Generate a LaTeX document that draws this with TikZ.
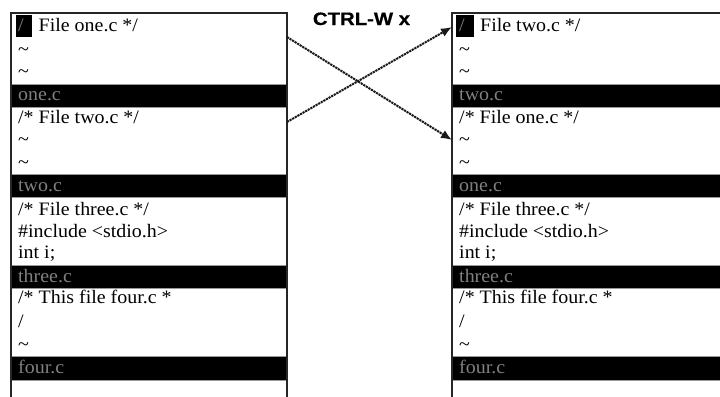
\documentclass[tikz,border=0pt]{standalone}
\usepackage{fontspec}
\usetikzlibrary{arrows.meta}
\newfontfamily\codefont[FakeStretch=1.05]{Liberation Serif}
\newfontfamily\labelfont[FakeStretch=1.13,FakeBold=0.6]{Liberation Sans Bold}
\tikzset{
  win/.style={draw=black!85, line width=1.6bp},
  barbox/.style={fill=black, draw=black!40, line width=0.8bp},
  txt/.style={anchor=base west, inner sep=0pt, font=\codefont\fontsize{19bp}{21bp}\selectfont},
  bartxt/.style={txt, text=black!50},
  curbox/.style={fill=black, text=black!50, anchor=base west, inner sep=0pt, minimum width=16bp, minimum height=22bp, font=\codefont\fontsize{19bp}{21bp}\selectfont, text depth=6bp, align=left},
  conn/.style={draw=black!90, line width=2bp, dash pattern=on 2.2bp off 0.8bp, -{Latex[length=11bp,width=9bp]}},
  lbl/.style={anchor=base, inner sep=0pt, font=\labelfont\fontsize{18bp}{20bp}\selectfont},
}
\begin{document}
\begin{tikzpicture}[x=1bp,y=-1bp]
\useasboundingbox (0,0) rectangle (720,396);
% ---------- left window ----------
\fill[white] (11,13) rectangle (287,400);
\draw[barbox] (11,84) rectangle (287,107);
\draw[barbox] (11,174) rectangle (287,197);
\draw[barbox] (11,265) rectangle (287,288);
\draw[barbox] (11,356) rectangle (287,380);
\draw[win] (11,400) -- (11,13) -- (287,13) -- (287,400);
\fill[black] (16,15) rectangle (32,37);
\node[txt, text=black!50] (Lc) at (18,31) {/};
\node[txt] (L11) at (38.5,31) {File one.c */};
\node[txt] (L12) at (18,55) {\char"7E};
\node[txt] (L13) at (18,77) {\char"7E};
\node[bartxt] (Lb1) at (18,100) {one.c};
\node[txt] (L21) at (18,123) {/* File two.c */};
\node[txt] (L22) at (18,145) {\char"7E};
\node[txt] (L23) at (18,168) {\char"7E};
\node[bartxt] (Lb2) at (18,191) {two.c};
\node[txt] (L31) at (18,215) {/* File three.c */};
\node[txt] (L32) at (18,237) {\#include <stdio.h>};
\node[txt] (L33) at (18,258) {int i;};
\node[bartxt] (Lb3) at (18,282) {three.c};
\node[txt] (L41) at (18,303) {/* This file four.c *};
\node[txt] (L42) at (18,327) {/};
\node[txt] (L43) at (18,350) {\char"7E};
\node[bartxt] (Lb4) at (18,373) {four.c};
% ---------- right window ----------
\fill[white] (452,13) rectangle (725,400);
\draw[barbox] (452,84) rectangle (725,107);
\draw[barbox] (452,174) rectangle (725,197);
\draw[barbox] (452,265) rectangle (725,288);
\draw[barbox] (452,356) rectangle (725,380);
\draw[win] (452,400) -- (452,13) -- (725,13);
\fill[black] (456,15) rectangle (474,37);
\node[txt, text=black!50] (Rc) at (459,31) {/};
\node[txt] (R11) at (480,31) {File two.c */};
\node[txt] (R12) at (459,55) {\char"7E};
\node[txt] (R13) at (459,77) {\char"7E};
\node[bartxt] (Rb1) at (459,100) {two.c};
\node[txt] (R21) at (459,123) {/* File one.c */};
\node[txt] (R22) at (459,145) {\char"7E};
\node[txt] (R23) at (459,168) {\char"7E};
\node[bartxt] (Rb2) at (459,191) {one.c};
\node[txt] (R31) at (459,215) {/* File three.c */};
\node[txt] (R32) at (459,237) {\#include <stdio.h>};
\node[txt] (R33) at (459,258) {int i;};
\node[bartxt] (Rb3) at (459,282) {three.c};
\node[txt] (R41) at (459,303) {/* This file four.c *};
\node[txt] (R42) at (459,327) {/};
\node[txt] (R43) at (459,350) {\char"7E};
\node[bartxt] (Rb4) at (459,373) {four.c};
% ---------- label and connectors ----------
\node[lbl] (key) at (361.5,25) {CTRL-W x};
\coordinate (oneL) at (287,37);
\coordinate (twoL) at (287,122);
\coordinate (oneR) at (452,140);
\coordinate (twoR) at (452,27);
\draw[conn] (oneL) -- (oneR);
\draw[conn] (twoL) -- (twoR);
\end{tikzpicture}
\end{document}
